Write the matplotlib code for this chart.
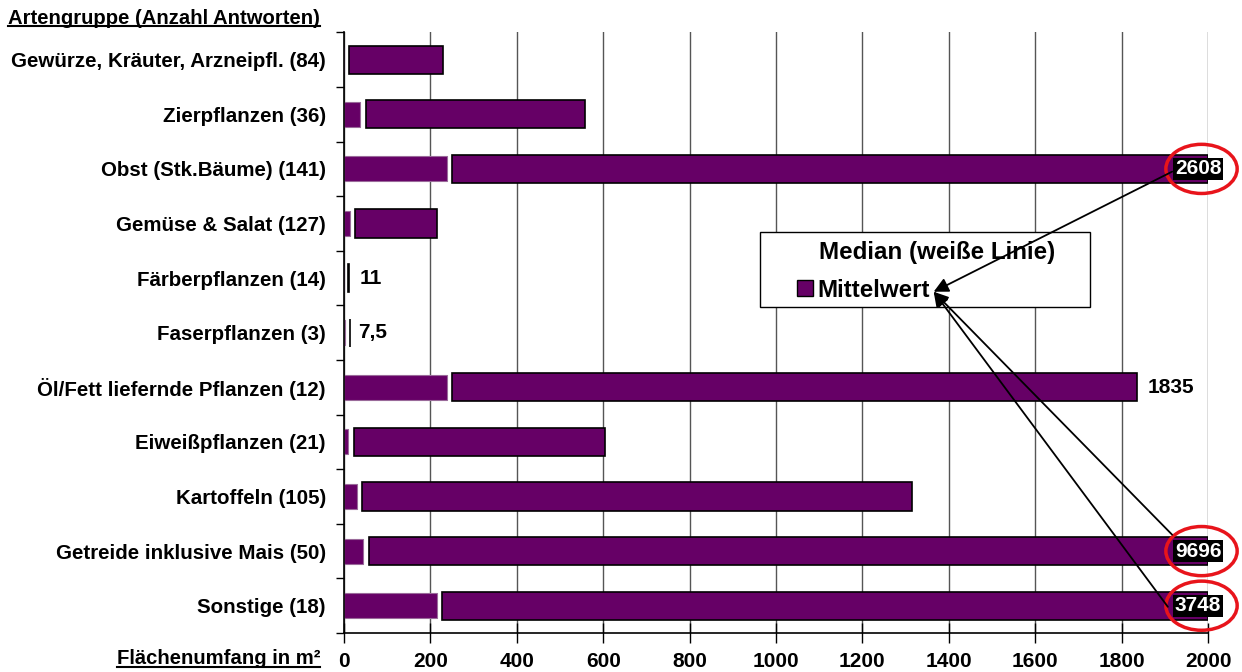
import numpy as np
import matplotlib.pyplot as plt
from matplotlib.patches import Ellipse, Patch, Rectangle
from matplotlib.lines import Line2D

plt.rcParams['font.family'] = ['Liberation Sans', 'DejaVu Sans']
plt.rcParams['font.weight'] = 'bold'

kategorien = ['Gewürze, Kräuter, Arzneipfl. (84)', 'Zierpflanzen (36)',
              'Obst (Stk.Bäume) (141)', 'Gemüse & Salat (127)',
              'Färberpflanzen (14)', 'Faserpflanzen (3)',
              'Öl/Fett liefernde Pflanzen (12)', 'Eiweißpflanzen (21)',
              'Kartoffeln (105)', 'Getreide inklusive Mais (50)', 'Sonstige (18)']
mittelwert = [229, 558, 2608, 215, 11, 7.5, 1835, 604, 1315, 9696, 3748]
median = [5, 44, 245, 20, 4, 7.5, 245, 16, 35, 51, 222]
wert_text = ['', '', '2608', '', '11', '7,5', '1835', '', '', '9696', '3748']
x_ticks = [0, 200, 400, 600, 800, 1000, 1200, 1400, 1600, 1800, 2000]

x_max = 2000
lila = '#660066'
luecke = 6  # halbe Breite der weißen Medianlinie

fig = plt.figure(figsize=(12.42, 6.72), dpi=100)
ax = fig.add_axes([344 / 1242, 1 - 633 / 672, 864 / 1242, 600.6 / 672])

y = np.arange(len(kategorien))
mw = np.minimum(np.array(mittelwert, dtype=float), x_max)
med = np.array(median, dtype=float)

links_breite = np.clip(med - luecke, 0, None)
rechts_start = med + luecke
rechts_breite = np.clip(mw - rechts_start, 0, None)

ax.barh(y, links_breite, height=0.46, color=lila, edgecolor='#9a6a9a', linewidth=0.8, zorder=2)
ax.barh(y, rechts_breite, left=rechts_start, height=0.52, color=lila,
        edgecolor='black', linewidth=1.2, zorder=2)

ax.set_xlim(0, x_max)
ax.set_ylim(len(kategorien) - 0.5, -0.5)

ax.set_xticks(x_ticks)
ax.set_xticklabels([str(t) for t in x_ticks], fontsize=15, fontweight='bold')
ax.tick_params(axis='x', direction='inout', length=14, width=1, pad=7)
ax.set_yticks(y)
ax.set_yticklabels(kategorien, fontsize=14.8, fontweight='bold')
ax.tick_params(axis='y', which='major', length=0, pad=13)
ax.set_yticks(np.arange(-0.5, len(kategorien)), minor=True)
ax.tick_params(axis='y', which='minor', length=6, width=1, direction='out')

ax.xaxis.grid(True, color='#555555', linewidth=1)
ax.set_axisbelow(True)
for s in ['top', 'right']:
    ax.spines[s].set_visible(False)
for s in ['left', 'bottom']:
    ax.spines[s].set_color('black')
    ax.spines[s].set_linewidth(1.2)

# Wertbeschriftungen
for i, (m, t) in enumerate(zip(mittelwert, wert_text)):
    if not t:
        continue
    if m > x_max:
        ax.text(1977, i, t, ha='center', va='center', color='white', fontsize=15,
                fontweight='bold', zorder=5,
                bbox=dict(facecolor='black', edgecolor='none', pad=1.2))
        ax.add_patch(Ellipse((1985, i), 165, 0.9, fill=False, edgecolor='#e8141b',
                             linewidth=2.5, clip_on=False, zorder=6))
    else:
        ax.annotate(t, (m, i), xytext=(11, 0), textcoords='offset pixels',
                    ha='left', va='center', fontsize=15, fontweight='bold')

# Legende: Rahmen, Überschrift und Eintrag
ax.add_patch(Rectangle((0.4815, 0.543), 0.382, 0.1247, transform=ax.transAxes,
                       facecolor='white', edgecolor='black', linewidth=1, zorder=4))
ax.text(0.686, 0.633, 'Median (weiße Linie)', transform=ax.transAxes, ha='center',
        va='center', fontsize=17.4, fontweight='bold', zorder=5)
leg = ax.legend(handles=[Patch(facecolor=lila, edgecolor='black', label='Mittelwert')],
                loc='center left', bbox_to_anchor=(0.524, 0.571), frameon=False,
                borderpad=0, borderaxespad=0, prop={'size': 17.4, 'weight': 'bold'},
                handlelength=0.66, handleheight=0.66, handletextpad=0.2)
leg.set_zorder(5)

# Pfeile von den abgeschnittenen Werten zur Legende
ziel = (1365, 4.25)
for start in [(1917, 2.05), (1917, 8.7), (1907, 10.02)]:
    ax.annotate('', xy=ziel, xytext=start,
                arrowprops=dict(arrowstyle='-|>', color='black', lw=1.3,
                                mutation_scale=22, shrinkA=0, shrinkB=0), zorder=7)

titel = fig.text(8 / 1242, 1 - 18 / 672, 'Artengruppe (Anzahl Antworten)', ha='left',
                 va='center', fontsize=14.6, fontweight='bold')
xlab = fig.text(320 / 1242, 1 - 659 / 672, 'Flächenumfang in m²', ha='right',
                va='center', fontsize=14.6, fontweight='bold')

fig.canvas.draw()
r = fig.canvas.get_renderer()
for t in [titel, xlab]:
    bb = t.get_window_extent(r).transformed(fig.transFigure.inverted())
    yy = bb.y0 + 1.5 / 672
    fig.add_artist(Line2D([bb.x0, bb.x1], [yy, yy], transform=fig.transFigure,
                          color='black', linewidth=1.5))

fig.savefig('out.png', dpi=100)
